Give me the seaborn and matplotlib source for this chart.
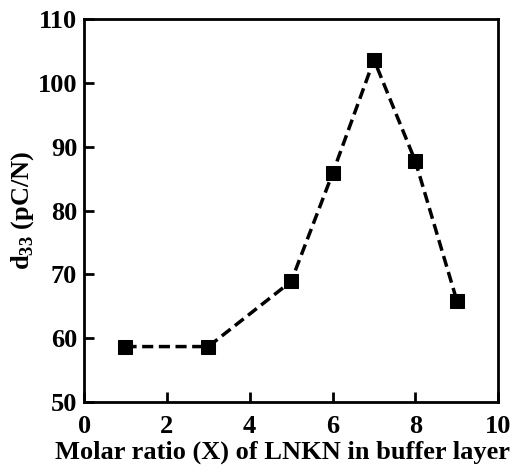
import matplotlib
matplotlib.use("Agg")
import matplotlib.pyplot as plt
import seaborn as sns
import pandas as pd

x_ratio = [1, 3, 5, 6, 7, 8, 9]
d33 = [58.7, 58.7, 68.9, 85.8, 103.6, 87.7, 65.9]
x_ticks = [0, 2, 4, 6, 8, 10]
y_ticks = [50, 60, 70, 80, 90, 100, 110]

sns.set_style("white")
plt.rcParams['font.family'] = ['Liberation Serif', 'DejaVu Serif']
plt.rcParams['font.weight'] = 'bold'
plt.rcParams['text.color'] = 'black'
plt.rcParams['axes.labelcolor'] = 'black'
plt.rcParams['xtick.color'] = 'black'
plt.rcParams['ytick.color'] = 'black'
plt.rcParams['mathtext.fontset'] = 'custom'
plt.rcParams['mathtext.rm'] = 'Liberation Serif:bold'
plt.rcParams['mathtext.bf'] = 'Liberation Serif:bold'

df = pd.DataFrame({"x": x_ratio, "y": d33})

fig = plt.figure(figsize=(5.19, 4.72), dpi=100)
ax = fig.add_axes([0.162, 0.148, 0.798, 0.812])
sns.lineplot(data=df, x="x", y="y", ax=ax, color="black", linestyle=(0, (3.2, 1.6)),
             linewidth=2.5, marker="s", markersize=10.5, markeredgecolor="black",
             markerfacecolor="black")

ax.set_xlim(0, 10)
ax.set_ylim(50, 110)
ax.set_xticks(x_ticks)
ax.set_yticks(y_ticks)
ax.tick_params(axis="both", direction="in", length=7, width=2, labelsize=19,
               bottom=True, left=True, top=False, right=False,
               colors="black", labelcolor="black")
ax.tick_params(axis="x", pad=9)
ax.tick_params(axis="y", pad=5)
for lab in ax.get_xticklabels() + ax.get_yticklabels():
    lab.set_fontweight("bold")
for s in ax.spines.values():
    s.set_linewidth(2)
    s.set_color("black")
ax.set_xlabel("Molar ratio (X) of LNKN in buffer layer", fontsize=19,
              fontweight="bold", labelpad=2, x=0.479, color="black")
ax.set_ylabel(r"d$_{\mathbf{33}}$ (pC/N)", fontsize=19, fontweight="bold",
              labelpad=1, color="black")

fig.savefig("out.png", dpi=100)
